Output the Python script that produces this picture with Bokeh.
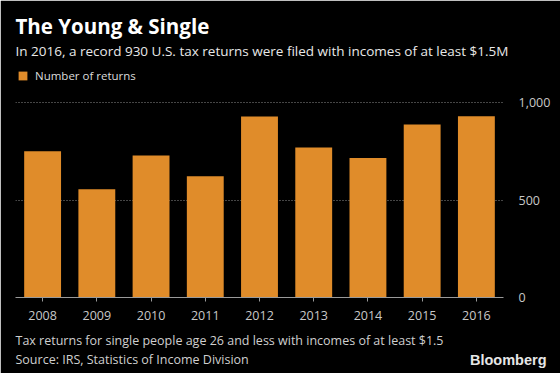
from bokeh.plotting import figure
from bokeh.models import (ColumnDataSource, Legend, LegendItem, Range1d, FactorRange,
                          LinearAxis, FixedTicker, NumeralTickFormatter, Title)
from bokeh.embed import file_html
from bokeh.resources import INLINE

years = ["2008", "2009", "2010", "2011", "2012", "2013", "2014", "2015", "2016"]
returns = [750, 555, 728, 622, 928, 769, 716, 887, 930]
y_ticks = [0, 500, 1000]

title_text = "The Young & Single"
subtitle_text = "In 2016, a record 930 U.S. tax returns were filed with incomes of at least $1.5M"
legend_text = "Number of returns"
note_text = "Tax returns for single people age 26 and less with incomes of at least $1.5"
source_text = "Source: IRS, Statistics of Income Division"
brand_text = "Bloomberg"

BAR = "#e08c2a"
FONT = "Open Sans"

src = ColumnDataSource(dict(year=years, n=returns))

p = figure(width=560, height=373, x_range=FactorRange(*years, range_padding=0),
           y_range=Range1d(0, 1185), output_backend="svg", toolbar_location=None,
           y_axis_location=None, x_axis_location="below")
p.background_fill_color = "black"
p.border_fill_color = "black"
p.outline_line_color = "black"
p.outline_line_width = 2
p.min_border_left = 15
p.min_border_right = 57
p.min_border_top = 66
p.min_border_bottom = 76

bars = p.vbar(x="year", top="n", width=0.68, source=src, fill_color=BAR, line_color=None)

xa = p.xaxis[0]
xa.axis_line_color = "#9a9a9a"
xa.major_tick_line_color = "#9a9a9a"
xa.major_tick_in = 0
xa.major_tick_out = 4
xa.minor_tick_line_color = None
xa.major_label_text_color = "#c8c8c8"
xa.major_label_text_font = FONT
xa.major_label_text_font_size = "12.5px"
xa.major_label_standoff = 9

ya = LinearAxis(ticker=FixedTicker(ticks=y_ticks), formatter=NumeralTickFormatter(format="0,0"))
ya.axis_line_color = None
ya.major_tick_line_color = None
ya.minor_tick_line_color = None
ya.major_label_text_color = "#c8c8c8"
ya.major_label_text_font = FONT
ya.major_label_text_font_size = "12.5px"
ya.major_label_standoff = 9
p.add_layout(ya, "right")

p.xgrid.grid_line_color = None
p.ygrid.ticker = FixedTicker(ticks=[500, 1000])
p.ygrid.grid_line_color = "#8a8a8a"
p.ygrid.grid_line_dash = "1 2"
p.ygrid.grid_line_width = 1

# header titles (first added sits closest to the plot)
p.add_layout(Title(text=subtitle_text, align="left", vertical_align="middle", standoff=12,
                   text_font=FONT, text_font_size="13.5px", text_font_style="normal",
                   text_color="#e8e8e8"), "above")
p.add_layout(Title(text=title_text, align="left", vertical_align="middle", standoff=-13,
                   text_font=FONT, text_font_size="20.5px", text_font_style="bold",
                   text_color="white"), "above")

# footer titles
p.add_layout(Title(text=note_text, align="left", vertical_align="top", standoff=18,
                   text_font=FONT, text_font_size="12.5px", text_font_style="normal",
                   text_color="#cfcfcf"), "below")
p.add_layout(Title(text=source_text, align="left", vertical_align="middle", standoff=-19,
                   text_font=FONT, text_font_size="12.5px", text_font_style="normal",
                   text_color="#cfcfcf"), "below")
p.add_layout(Title(text=brand_text, align="right", vertical_align="middle", standoff=-18.2,
                   offset=-43, text_font="Liberation Sans", text_font_size="14.5px",
                   text_font_style="bold", text_color="#e6e6e6"), "below")

legend = Legend(items=[LegendItem(label=legend_text, renderers=[bars])],
                location=(2, 214.5), orientation="horizontal",
                glyph_width=11, glyph_height=11, label_height=11, label_standoff=7,
                padding=0, margin=0, spacing=0,
                border_line_color=None, background_fill_alpha=0,
                label_text_font=FONT, label_text_font_size="11.5px", label_text_color="#dcdcdc")
p.add_layout(legend, "center")

open("out.html", "w").write(file_html(p, INLINE))
